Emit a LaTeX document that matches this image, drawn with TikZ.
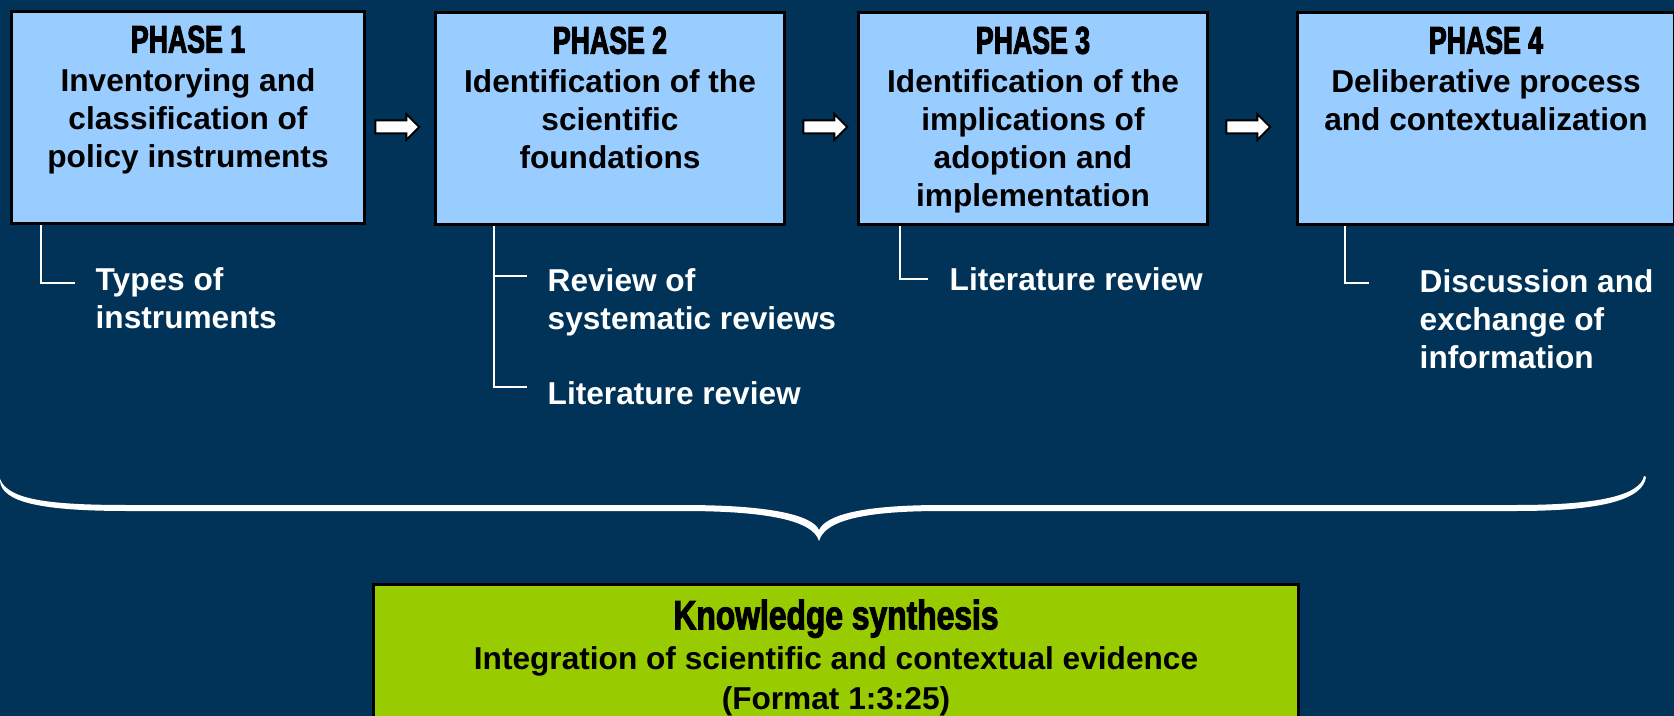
\documentclass[tikz,border=0pt]{standalone}
\usepackage{fontspec}
\setmainfont{Liberation Sans}
\newfontfamily\headfont{Liberation Sans}[FakeStretch=0.69,FakeBold=2.5]
\newfontfamily\synthfont{Liberation Sans}[FakeStretch=0.78,FakeBold=2.5]
\usetikzlibrary{positioning,shapes.arrows}

\definecolor{navy}{RGB}{0,51,87}
\definecolor{skyfill}{RGB}{153,204,255}
\definecolor{limefill}{RGB}{153,204,0}

\newcommand{\phasehead}[1]{{\headfont\bfseries\fontsize{11}{10.9}\selectfont PHASE #1}}

\begin{document}
\begin{tikzpicture}[
  phase/.style={draw=black, line width=0.03cm, fill=skyfill, anchor=north west,
    inner sep=0pt, minimum height=2.12cm, minimum width=#1},
  phasetext/.style={align=center, inner sep=0pt, font=\bfseries\fontsize{9}{10.9}\selectfont},
  item/.style={align=left, anchor=north west, inner sep=0pt, text=white,
    font=\bfseries\fontsize{9}{10.8}\selectfont},
  branch/.style={draw=white, line width=0.02cm},
  flow/.style={single arrow, draw=black, fill=white, line width=0.02cm,
    minimum height=0.44cm, inner sep=0.055cm, single arrow head extend=0.065cm}
]
\useasboundingbox (0,0) rectangle (16.74,-7.16);
\clip (0,0) rectangle (16.74,-7.16);
\fill[navy] (0,0) rectangle (16.74,-7.16);

% the four phases
\node[phase=3.53cm] (p1) at (0.10,-0.10) {};
\node[phase=3.49cm] (p2) at (4.34,-0.11) {};
\node[phase=3.49cm] (p3) at (8.57,-0.11) {};
\node[phase=3.77cm] (p4) at (12.96,-0.11) {};

\node[phasetext, below=0.15cm of p1.north] (t1) {\phasehead{1}\\Inventorying and\\classification of\\policy instruments};
\node[phasetext, below=0.15cm of p2.north] (t2) {\phasehead{2}\\Identification of the\\scientific\\foundations};
\node[phasetext, below=0.15cm of p3.north] (t3) {\phasehead{3}\\Identification of the\\implications of\\adoption and\\implementation};
\node[phasetext, below=0.15cm of p4.north] (t4) {\phasehead{4}\\Deliberative process\\and contextualization};

\node[flow] (a1) at (3.94,-1.27) {};
\node[flow] (a2) at (8.22,-1.27) {};
\node[flow] (a3) at (12.45,-1.27) {};

% methods under each phase
\node[item] (s1) at (0.95,-2.67) {Types of\\instruments};
\node[item] (s2a) at (5.47,-2.68) {Review of\\systematic reviews};
\node[item] (s2b) at (5.47,-3.81) {Literature review};
\node[item] (s3) at (9.49,-2.67) {Literature review};
\node[item] (s4) at (14.19,-2.69) {Discussion and\\exchange of\\information};

\draw[branch] ([xshift=0.31cm]p1.south west) |- ([xshift=-0.2cm,yshift=-0.16cm]s1.north west);
\draw[branch] ([xshift=0.60cm]p2.south west) |- ([xshift=-0.2cm,yshift=-0.06cm]s2b.north west);
\draw[branch] ([xshift=0.60cm]p2.south west) |- ([xshift=-0.2cm,yshift=-0.08cm]s2a.north west);
\draw[branch] ([xshift=0.43cm]p3.south west) |- ([xshift=-0.21cm,yshift=-0.12cm]s3.north west);
\draw[branch] ([xshift=0.49cm]p4.south west) |- ([xshift=-0.50cm,yshift=-0.14cm]s4.north west);

% brace
\fill[white] (0,-4.79) .. controls (0.08,-5.00) and (0.50,-5.05) .. (1.28,-5.05)
  -- (6.83,-5.05) .. controls (7.70,-5.05) and (8.12,-5.15) .. (8.19,-5.30)
  .. controls (8.26,-5.15) and (8.62,-5.05) .. (9.42,-5.05)
  -- (15.16,-5.05) .. controls (16.00,-5.05) and (16.40,-4.95) .. (16.44,-4.76)
  -- (16.46,-4.77) .. controls (16.43,-5.00) and (16.00,-5.11) .. (15.16,-5.11)
  -- (9.42,-5.11) .. controls (8.65,-5.11) and (8.25,-5.20) .. (8.19,-5.41)
  .. controls (8.13,-5.20) and (7.65,-5.11) .. (6.83,-5.11)
  -- (1.28,-5.11) .. controls (0.40,-5.11) and (0.02,-5.02) .. (0,-4.81) -- cycle;

% synthesis box
\node[draw=black, line width=0.03cm, fill=limefill, anchor=north west, inner sep=0pt,
  minimum width=9.25cm, minimum height=2cm] (syn) at (3.72,-5.83) {};
\node[phasetext, font=\bfseries\fontsize{9}{11.4}\selectfont, below=0.16cm of syn.north] (syntext)
  {{\synthfont\bfseries\fontsize{11.6}{11.4}\selectfont Knowledge synthesis}\\
   Integration of scientific and contextual evidence\\(Format 1:3:25)};
\end{tikzpicture}
\end{document}
